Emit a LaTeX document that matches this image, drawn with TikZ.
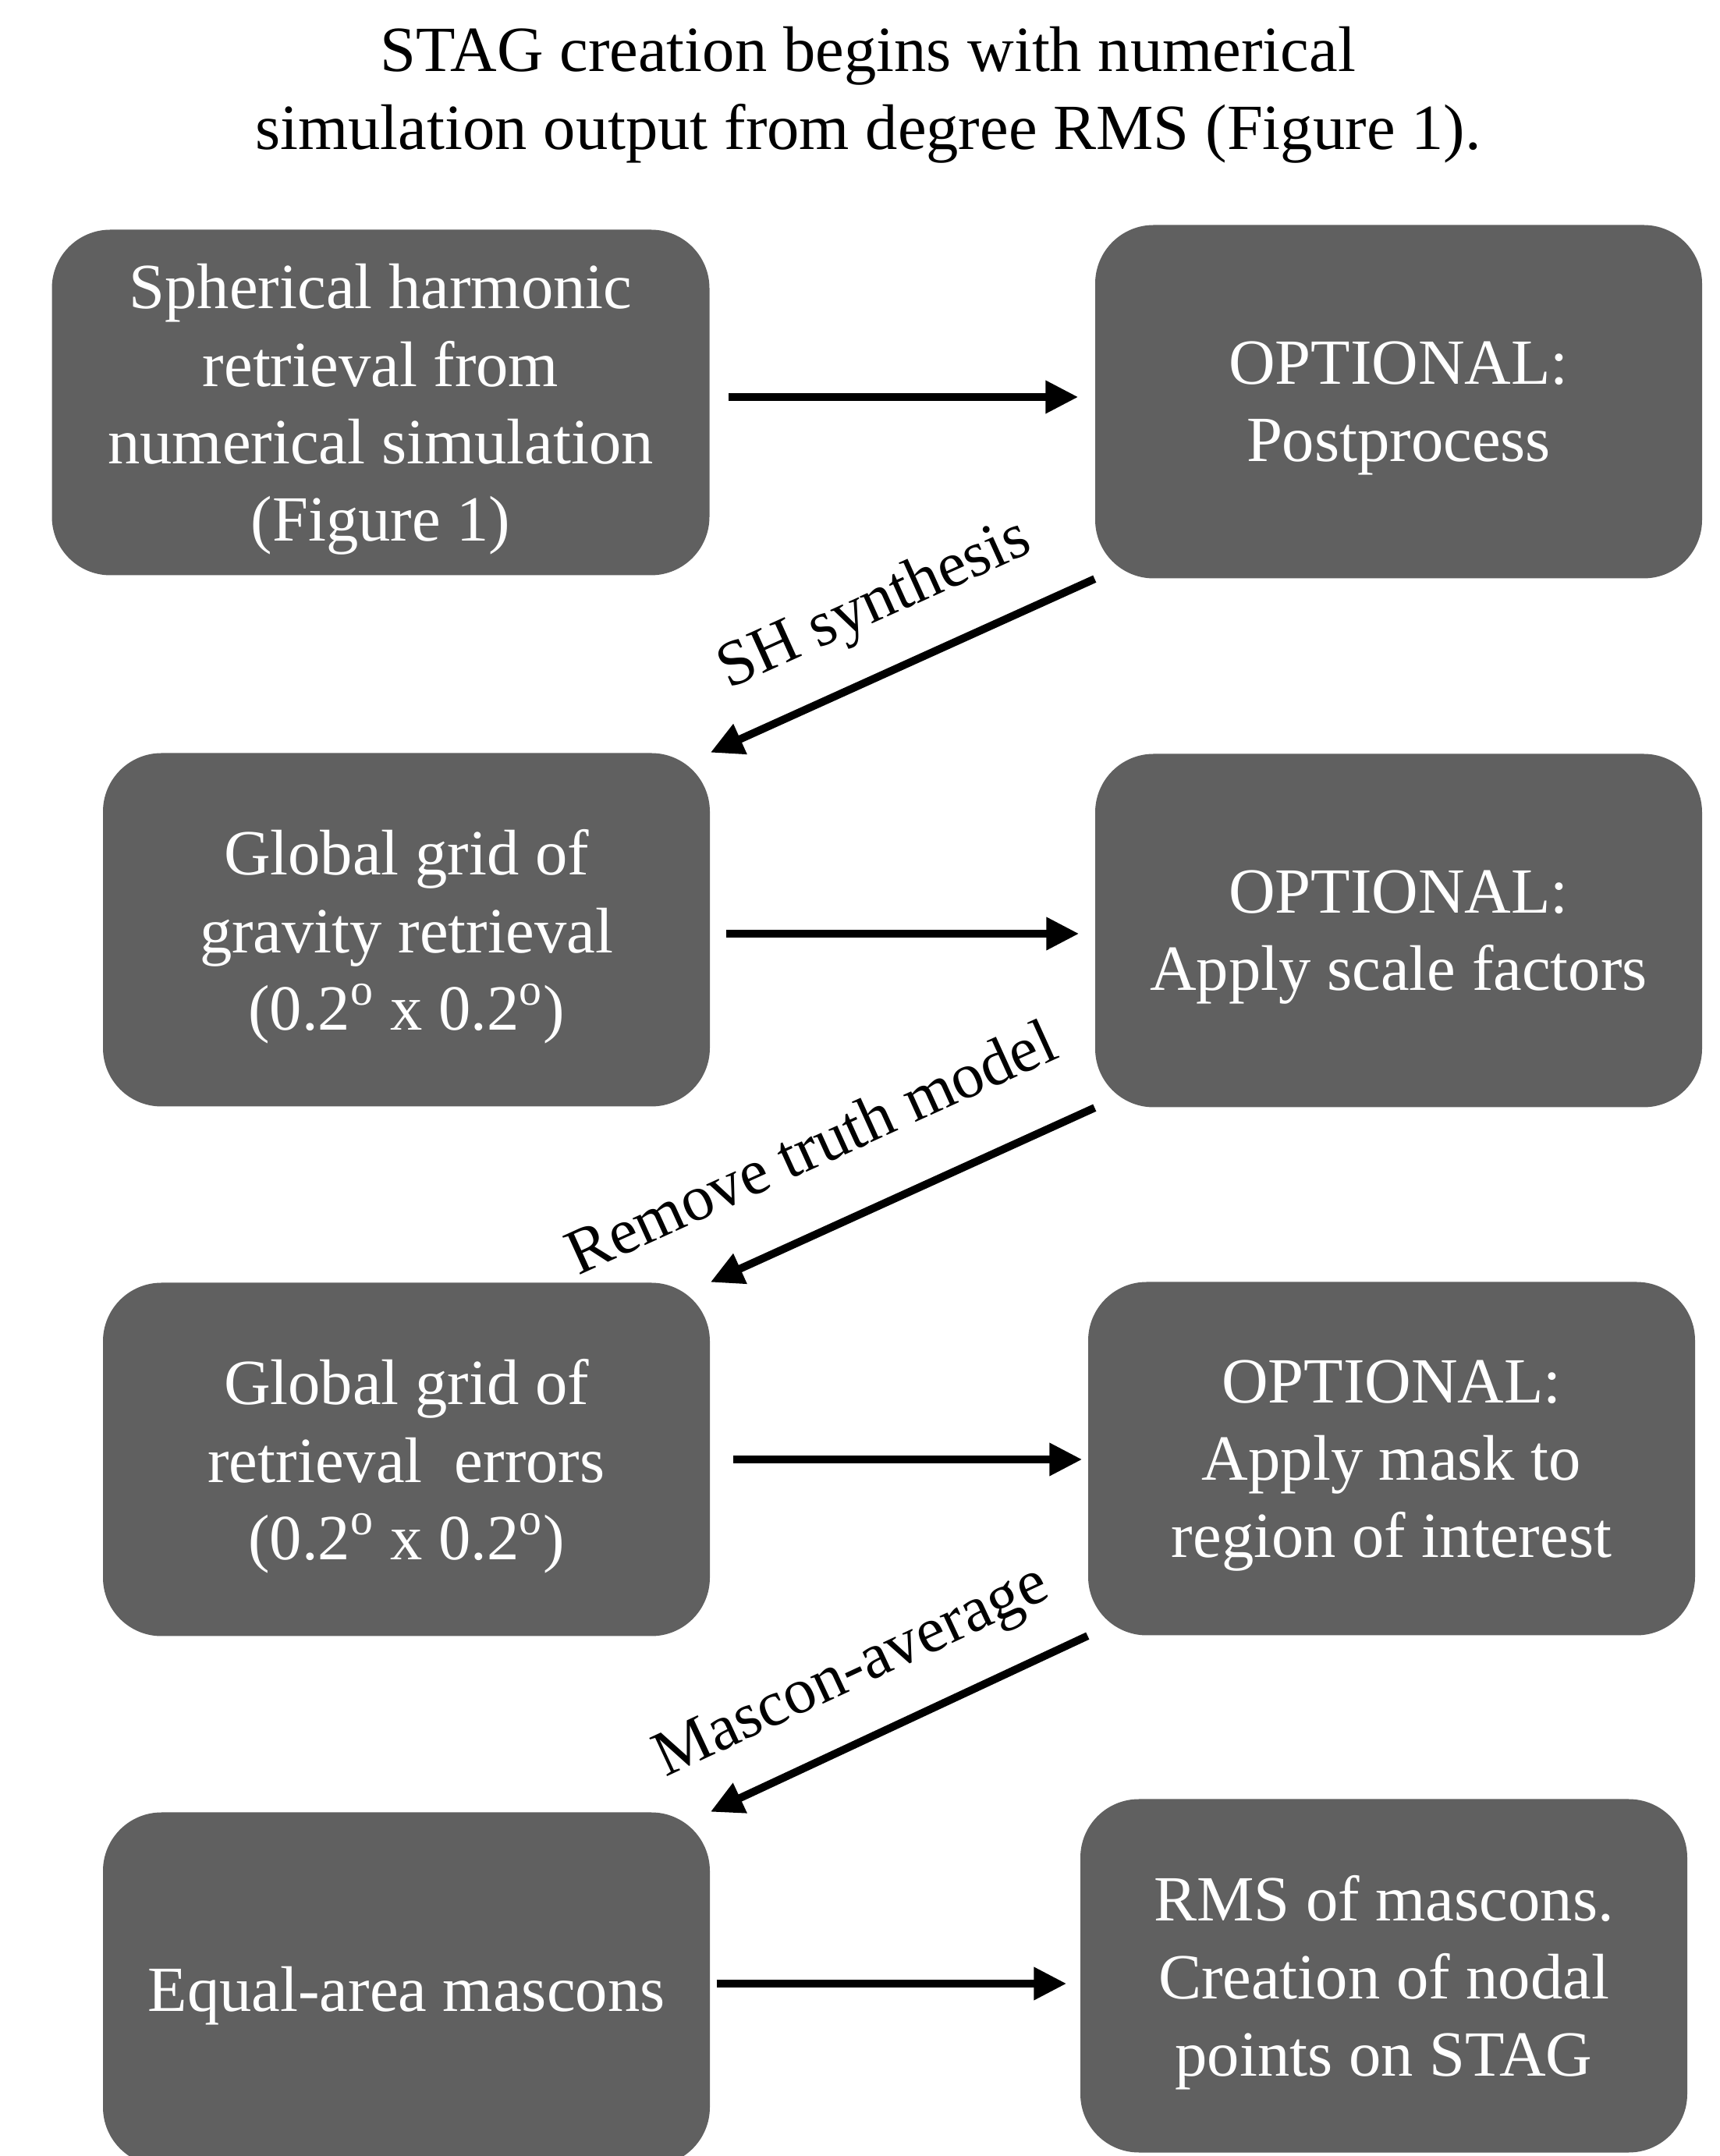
\documentclass[tikz,border=0pt]{standalone}
\usepackage{fontspec}
\setmainfont{Liberation Serif}
\definecolor{boxgray}{RGB}{96,96,96}
\usetikzlibrary{arrows.meta,positioning}

\begin{document}
\begin{tikzpicture}[
  stage/.style={fill=boxgray,rounded corners=0.75cm,minimum width=7.78cm,minimum height=4.53cm,
    inner sep=0pt,align=center,text=white,font=\fontsize{23.5}{28.2}\selectfont,text depth=-1.4pt},
  arr/.style={-{Triangle[length=0.42cm,width=0.4cm]},line width=0.1cm},
  lbl/.style={font=\fontsize{23.5}{28.2}\selectfont,sloped,above=3mm}
]
  \useasboundingbox (0,0) rectangle (22.05,27.64);
  % Title
  \node[font=\fontsize{23.5}{28.5}\selectfont,align=center] (title) at (11.13,26.42)
    {STAG creation begins with numerical\\simulation output from degree RMS (Figure 1).};
  % Left column
  \node[stage,minimum width=8.43cm,minimum height=4.43cm] (sh) at (4.88,22.48)
    {Spherical harmonic\\retrieval from\\numerical simulation\\(Figure 1)};
  \node[stage] (grav) at (5.21,15.72) {Global grid of\\gravity retrieval\\(0.2\textsuperscript{o} x 0.2\textsuperscript{o})};
  \node[stage] (err) at (5.21,8.93) {Global grid of\\retrieval~ errors\\(0.2\textsuperscript{o} x 0.2\textsuperscript{o})};
  \node[stage] (masc) at (5.21,2.14) {Equal-area mascons};
  % Right column
  \node[stage] (post) at (17.93,22.49) {OPTIONAL:\\Postprocess};
  \node[stage] (scale) at (17.93,15.71) {OPTIONAL:\\Apply scale factors};
  \node[stage] (mask) at (17.84,8.94) {OPTIONAL:\\Apply mask to\\region of interest};
  \node[stage] (rms) at (17.74,2.31) {RMS of mascons.\\Creation of nodal\\points on STAG};
  % Arrows
  \draw[arr,shorten <=0.24cm,shorten >=0.21cm] ([yshift=0.07cm]sh.east) -- ([yshift=0.07cm]sh.east -| post.west);
  \draw[arr,shorten <=0.2cm,shorten >=0.2cm] ([yshift=-0.05cm]grav.east) -- ([yshift=-0.05cm]grav.east -| scale.west);
  \draw[arr,shorten <=0.29cm,shorten >=0.07cm] (err.east) -- (err.east -| mask.west);
  \draw[arr,shorten <=0.08cm,shorten >=0.17cm] ([yshift=0.07cm]masc.east) -- ([yshift=0.07cm]masc.east -| rms.west);
  \draw[arr] (post.south west) -- (grav.north east) node[lbl,midway] {SH synthesis};
  \draw[arr] (scale.south west) -- (err.north east) node[lbl,pos=0.65,above=6mm] {Remove truth model};
  \draw[arr] (mask.south west) -- (masc.north east) node[lbl,pos=0.55] {Mascon-average};
\end{tikzpicture}
\end{document}
